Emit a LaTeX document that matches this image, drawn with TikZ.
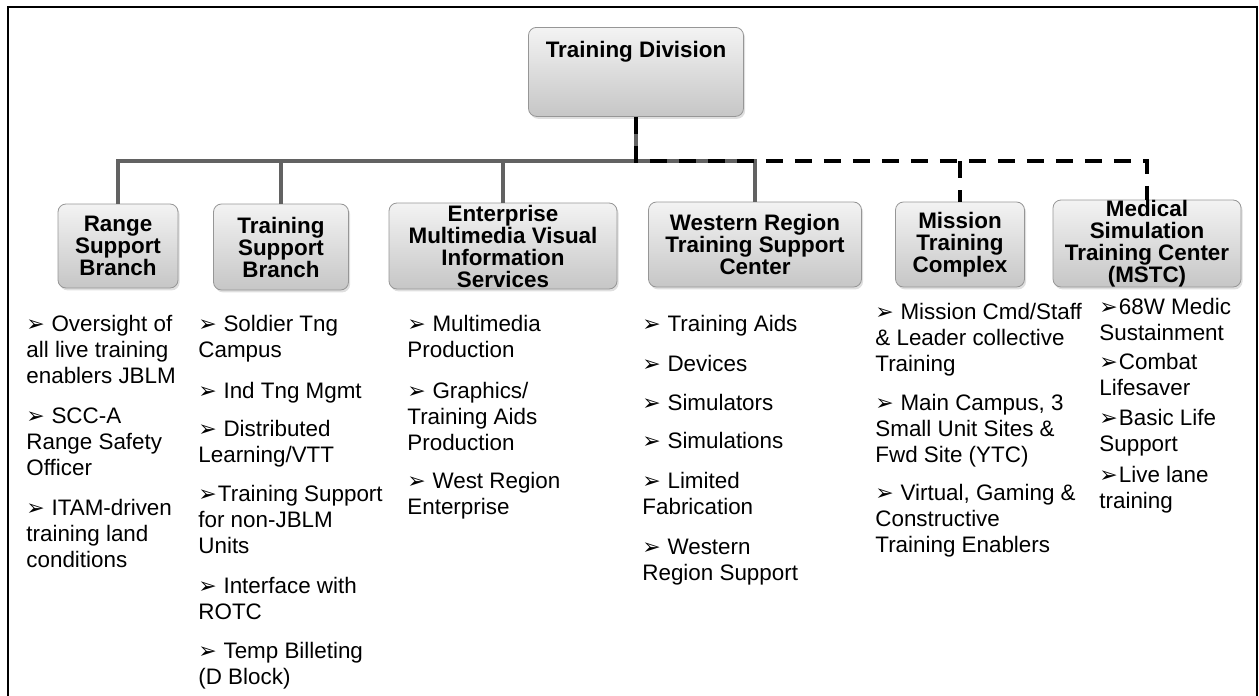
\documentclass[tikz,border=0pt]{standalone}
\usepackage{fontspec}
\setmainfont{Liberation Sans}
\newfontfamily\dingFont{DejaVu Sans}
\usepackage{tikz}
\usetikzlibrary{shadows}
\definecolor{busGray}{RGB}{98,98,98}
\definecolor{boxLine}{RGB}{150,150,150}
\definecolor{boxTop}{RGB}{243,243,243}
\definecolor{boxBottom}{RGB}{198,198,198}
\newcommand{\arrowBullet}{\raisebox{0pt}{\dingFont\fontsize{11}{11}\selectfont\char"27A2}\hspace{0.3em}}
\newcommand{\arrowBulletTight}{\raisebox{0pt}{\dingFont\fontsize{11}{11}\selectfont\char"27A2}\hspace{0.05em}}

\begin{document}
\begin{tikzpicture}[x=0.5pt,y=-0.5pt]

          \tikzstyle{unitNode} = [draw=boxLine, rounded corners=4pt, top color=boxTop, bottom color=boxBottom, drop shadow={shadow xshift=0.8pt, shadow yshift=-1.2pt, opacity=0.25}, align=center, inner sep=0pt, font=\fontsize{11.2}{11}\selectfont\bfseries];
          % lists sit on the baseline of their last line
          \tikzstyle{listNode} = [anchor=base west, align=left, inner sep=0pt, font=\fontsize{11.2}{13}\selectfont];

          \tikzstyle{solidEdge} = [line width=2pt, busGray];
          \tikzstyle{dashEdge} = [line width=2.2pt, black, dash pattern=on 8.5pt off 6pt];

          \useasboundingbox (0,0) rectangle (1259,696);
          \clip (0,0) rectangle (1259,696);
          \draw[line width=1pt] (8,720) -- (8,7) -- (1257,7) -- (1257,720);

          % boxes
          \node[unitNode, anchor=north, minimum width=107.5pt, text height=15pt, text depth=29.5pt] (div) at (636,27) {Training Division};
          \node[unitNode, minimum width=60pt, minimum height=42pt] (range) at (118,246) {Range\\Support\\Branch};
          \node[unitNode, minimum width=67.5pt, minimum height=43pt] (tsb) at (281,247) {Training\\Support\\Branch};
          \node[unitNode, minimum width=114pt, minimum height=43pt] (emv) at (503,246) {Enterprise\\Multimedia Visual\\Information\\Services};
          \node[unitNode, minimum width=106.5pt, minimum height=42.5pt] (wr) at (755,244.5) {Western Region\\Training Support\\Center};
          \node[unitNode, minimum width=64.5pt, minimum height=42.5pt] (mtc) at (960,244.5) {Mission\\Training\\Complex};
          \node[unitNode, minimum width=94pt, minimum height=43.5pt] (mstc) at (1147,243.5) {Medical\\Simulation\\Training Center\\(MSTC)};

          % connectors
          \coordinate (bus) at (636,161);
          \draw[solidEdge] (div.south) -- (bus);
          \draw[solidEdge] (range.north) |- (bus) -| (wr.north);
          \draw[solidEdge] (tsb.north) -- (tsb.north |- bus);
          \draw[solidEdge] (emv.north) -- (emv.north |- bus);
          \draw[dashEdge] (div.south) |- (mstc.north |- bus) -- (mstc.north);
          \draw[dashEdge] (mtc.north |- bus) -- (mtc.north);

          % lists
          \node[listNode] (rs1) at (26,383) {\arrowBullet Oversight of\\all live training\\enablers JBLM};
          \node[listNode] (rs2) at (26,475) {\arrowBullet SCC-A\\Range Safety\\Officer};
          \node[listNode] (rs3) at (26,567) {\arrowBullet ITAM-driven\\training land\\conditions};

          \node[listNode] (ts1) at (198,357) {\arrowBullet Soldier Tng\\Campus};
          \node[listNode] (ts2) at (198,398) {\arrowBullet Ind Tng Mgmt};
          \node[listNode] (ts3) at (198,462) {\arrowBullet Distributed\\Learning/VTT};
          \node[listNode] (ts4) at (198,553) {\arrowBulletTight Training Support\\for non-JBLM\\Units};
          \node[listNode] (ts5) at (198,619) {\arrowBullet Interface with\\ROTC};
          \node[listNode] (ts6) at (198,684) {\arrowBullet Temp Billeting\\(D Block)};

          \node[listNode] (ev1) at (407,357) {\arrowBullet Multimedia\\Production};
          \node[listNode] (ev2) at (407,450) {\arrowBullet Graphics/\\Training Aids\\Production};
          \node[listNode] (ev3) at (407,514) {\arrowBullet West Region\\Enterprise};

          \node[listNode] (wr1) at (642,331) {\arrowBullet Training Aids};
          \node[listNode] (wr2) at (642,371) {\arrowBullet Devices};
          \node[listNode] (wr3) at (642,410) {\arrowBullet Simulators};
          \node[listNode] (wr4) at (642,448) {\arrowBullet Simulations};
          \node[listNode] (wr5) at (642,514) {\arrowBullet Limited\\Fabrication};
          \node[listNode] (wr6) at (642,580) {\arrowBullet Western\\Region Support};

          \node[listNode] (mt1) at (875,371) {\arrowBullet Mission Cmd/Staff\\\& Leader collective\\Training};
          \node[listNode] (mt2) at (875,462) {\arrowBullet Main Campus, 3\\Small Unit Sites \&\\Fwd Site (YTC)};
          \node[listNode] (mt3) at (875,552) {\arrowBullet Virtual, Gaming \&\\Constructive\\Training Enablers};

          \node[listNode] (ms1) at (1099,340) {\arrowBulletTight 68W Medic\\Sustainment};
          \node[listNode] (ms2) at (1099,395) {\arrowBulletTight Combat\\Lifesaver};
          \node[listNode] (ms3) at (1099,451) {\arrowBulletTight Basic Life\\Support};
          \node[listNode] (ms4) at (1099,508) {\arrowBulletTight Live lane\\training};
        \end{tikzpicture}
\end{document}
